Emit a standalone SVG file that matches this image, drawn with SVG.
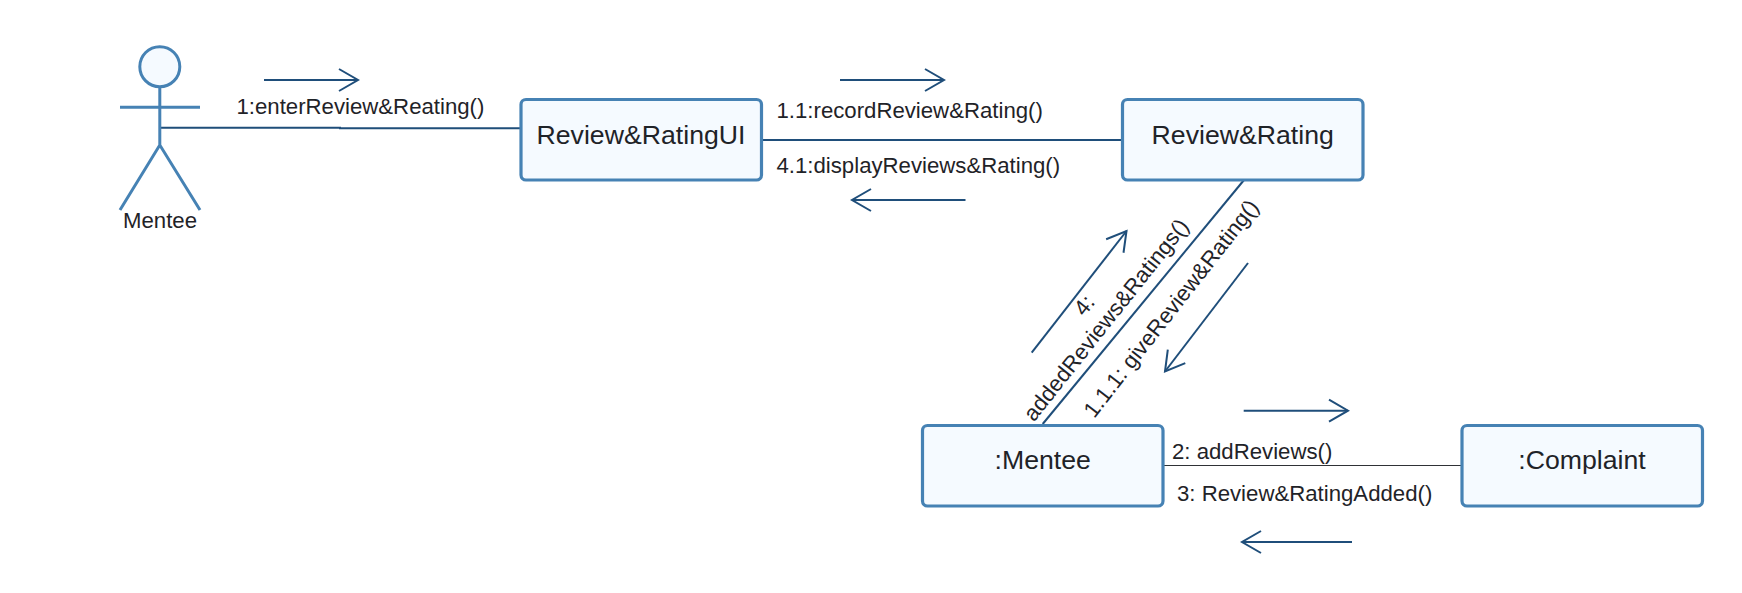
<svg xmlns="http://www.w3.org/2000/svg" width="1742" height="593" viewBox="0 0 1742 593">
<style>
text{font-family:"Liberation Sans",Arial,sans-serif;fill:#1f2328}
.n{font-size:26.67px;text-anchor:middle}
.l{font-size:22.2px}
.box{fill:#f5faff;stroke:#4682b4;stroke-width:3.2}
.act{fill:none;stroke:#4682b4;stroke-width:3}
.c{fill:none;stroke:#1f4e7a;stroke-width:2}
.a{fill:none;stroke:#1f4e7a;stroke-width:2;marker-end:url(#open)}
</style>
<defs>
<marker id="open" markerUnits="userSpaceOnUse" markerWidth="24" markerHeight="28" refX="21" refY="14" orient="auto" overflow="visible">
<path d="M2,3 L21,14 L2,25" fill="none" stroke="#1f4e7a" stroke-width="2"/>
</marker>
</defs>
<rect width="1742" height="593" fill="#ffffff"/>
<g id="connectors">
<path class="c" d="M159,127.7 H340 V128.3 H521"/>
<path class="c" d="M762,140 H1122"/>
<path class="c" d="M1244,180 L1042.7,424"/>
<path class="c" d="M1163,465.5 H1462" style="stroke:#2f3236;stroke-width:1.2"/>
<path class="a" d="M264,80 H358"/>
<path class="a" d="M840,80 H944"/>
<path class="a" d="M965.5,200 H852"/>
<path class="a" d="M1031.7,352.7 L1126.5,231"/>
<path class="a" d="M1248,263 L1165,371.5"/>
<path class="a" d="M1243.7,410.7 H1348"/>
<path class="a" d="M1352,542 H1242"/>
<text class="l" x="236.5" y="114">1:enterReview&amp;Reating()</text>
<text class="l" x="776.5" y="118">1.1:recordReview&amp;Rating()</text>
<text class="l" x="776.5" y="173">4.1:displayReviews&amp;Rating()</text>
<text class="l" text-anchor="middle" transform="translate(1090,310) rotate(-51.5)">4:</text>
<text class="l" text-anchor="middle" transform="translate(1112,324.5) rotate(-51.5)">addedReviews&amp;Ratings()</text>
<text class="l" text-anchor="middle" transform="translate(1177,313) rotate(-52)">1.1.1: giveReview&amp;Rating()</text>
<text class="l" x="1172" y="459">2: addReviews()</text>
<text class="l" x="1177" y="501">3: Review&amp;RatingAdded()</text>
</g>
<g id="actor-mentee">
<circle class="act" cx="159.8" cy="66.7" r="20" style="fill:#f5faff"/>
<path class="act" d="M159.8,87 V145 M120,107.3 H200 M120,210 L159.8,145 L200,210"/>
<text x="160" y="228" text-anchor="middle" style="font-size:22.2px">Mentee</text>
</g>
<g id="node-review-rating-ui">
<rect class="box" x="521" y="99.5" width="240.5" height="80.5" rx="5"/>
<text class="n" x="641" y="143.5">Review&amp;RatingUI</text>
</g>
<g id="node-review-rating">
<rect class="box" x="1122.5" y="99.5" width="240.5" height="80.5" rx="5"/>
<text class="n" x="1242.7" y="143.5">Review&amp;Rating</text>
</g>
<g id="node-mentee">
<rect class="box" x="922.5" y="425.5" width="240.5" height="80.5" rx="5"/>
<text class="n" x="1042.7" y="469.3">:Mentee</text>
</g>
<g id="node-complaint">
<rect class="box" x="1462" y="425.5" width="240.5" height="80.5" rx="5"/>
<text class="n" x="1582" y="469.3">:Complaint</text>
</g>
</svg>
